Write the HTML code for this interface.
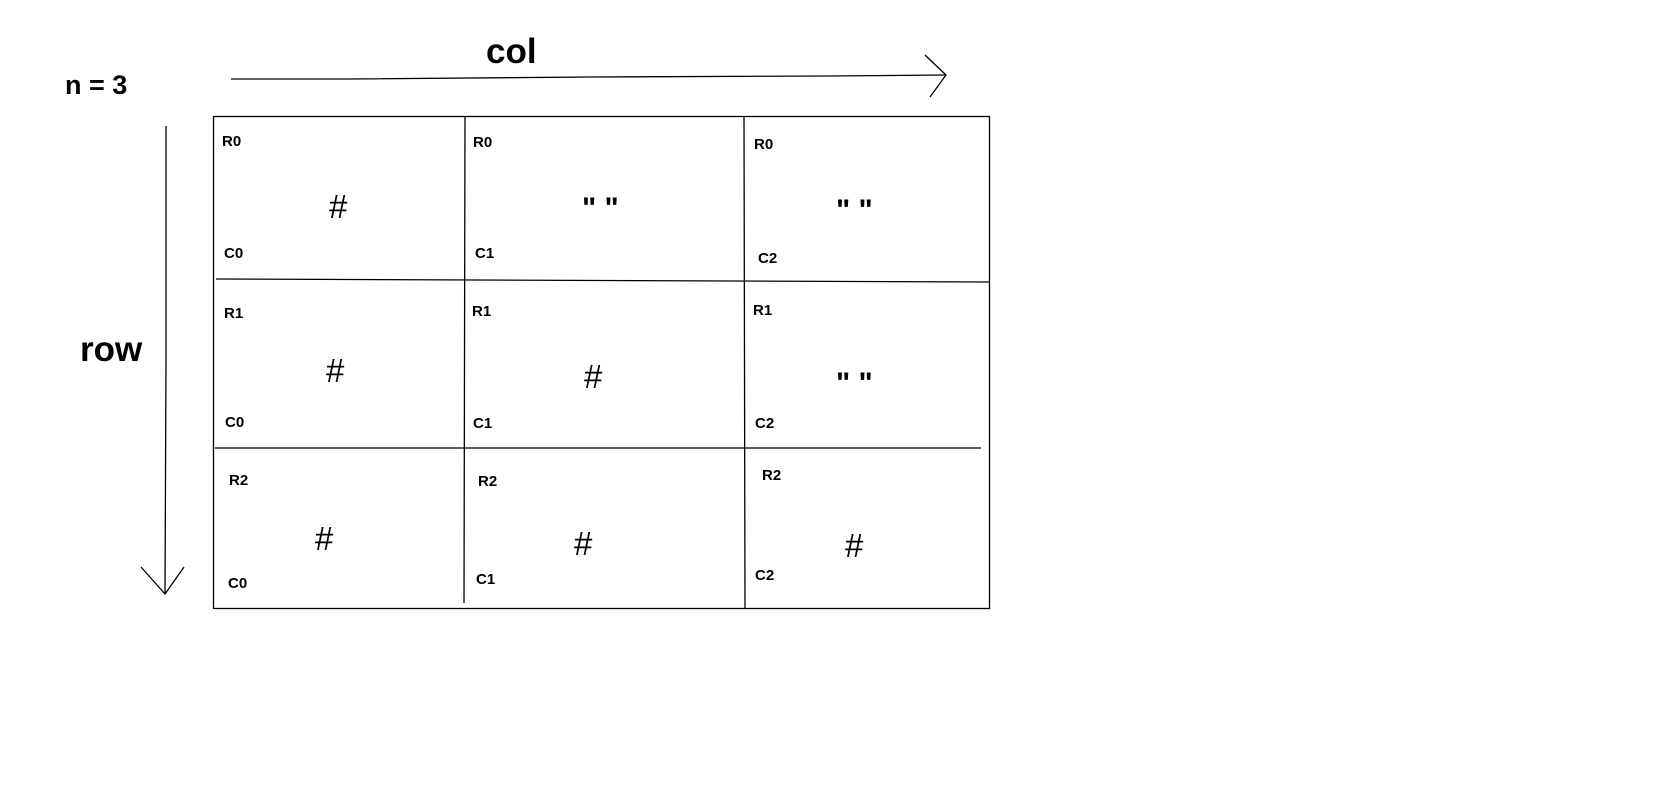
<!DOCTYPE html>
<html><head><meta charset="utf-8"><style>
html,body{margin:0;padding:0;background:#fff;}
svg{display:block;}
text{font-family:"Liberation Sans",sans-serif;fill:#000;}
.lbl{font-size:15px;font-weight:bold;}
.hash{font-size:33px;}
.q{font-size:30px;font-weight:bold;}
</style></head><body>
<svg width="1677" height="803" viewBox="0 0 1677 803">
<text x="65" y="94" font-size="27" font-weight="bold">n = 3</text>
<text x="486" y="63" font-size="35" font-weight="bold">col</text>
<text x="80" y="361" font-size="35" font-weight="bold">row</text>
<g stroke="#000" stroke-width="1.3" fill="none">
<polyline points="231,79 350,79 590,77 830,76 946,75"/>
<polyline points="925,55 946,75 930,97"/>
</g>
<g stroke="#000" stroke-width="1.3" fill="none">
<polyline points="166,126 166,360 165,594"/>
<polyline points="141,567 165,594 184,567"/>
</g>
<g stroke="#000" stroke-width="1.3" fill="none">
<rect x="213.5" y="116.5" width="776" height="492"/>
<line x1="465" y1="117" x2="464" y2="603"/>
<line x1="744" y1="117" x2="745" y2="609"/>
<line x1="216" y1="279" x2="989" y2="282"/>
<line x1="215" y1="448" x2="981" y2="448"/>
</g>
<g>
<text class="lbl" x="222" y="146">R0</text><text class="lbl" x="224" y="258">C0</text><text class="hash" x="329" y="218">#</text>
<text class="lbl" x="473" y="147">R0</text><text class="lbl" x="475" y="258">C1</text><text class="q" x="582" y="218">" "</text>
<text class="lbl" x="754" y="149">R0</text><text class="lbl" x="758" y="263">C2</text><text class="q" x="836" y="220">" "</text>
<text class="lbl" x="224" y="318">R1</text><text class="lbl" x="225" y="427">C0</text><text class="hash" x="326" y="382">#</text>
<text class="lbl" x="472" y="316">R1</text><text class="lbl" x="473" y="428">C1</text><text class="hash" x="584" y="388">#</text>
<text class="lbl" x="753" y="315">R1</text><text class="lbl" x="755" y="428">C2</text><text class="q" x="836" y="393">" "</text>
<text class="lbl" x="229" y="485">R2</text><text class="lbl" x="228" y="588">C0</text><text class="hash" x="315" y="550">#</text>
<text class="lbl" x="478" y="486">R2</text><text class="lbl" x="476" y="584">C1</text><text class="hash" x="574" y="555">#</text>
<text class="lbl" x="762" y="480">R2</text><text class="lbl" x="755" y="580">C2</text><text class="hash" x="845" y="557">#</text>
</g>
</svg>
</body></html>
